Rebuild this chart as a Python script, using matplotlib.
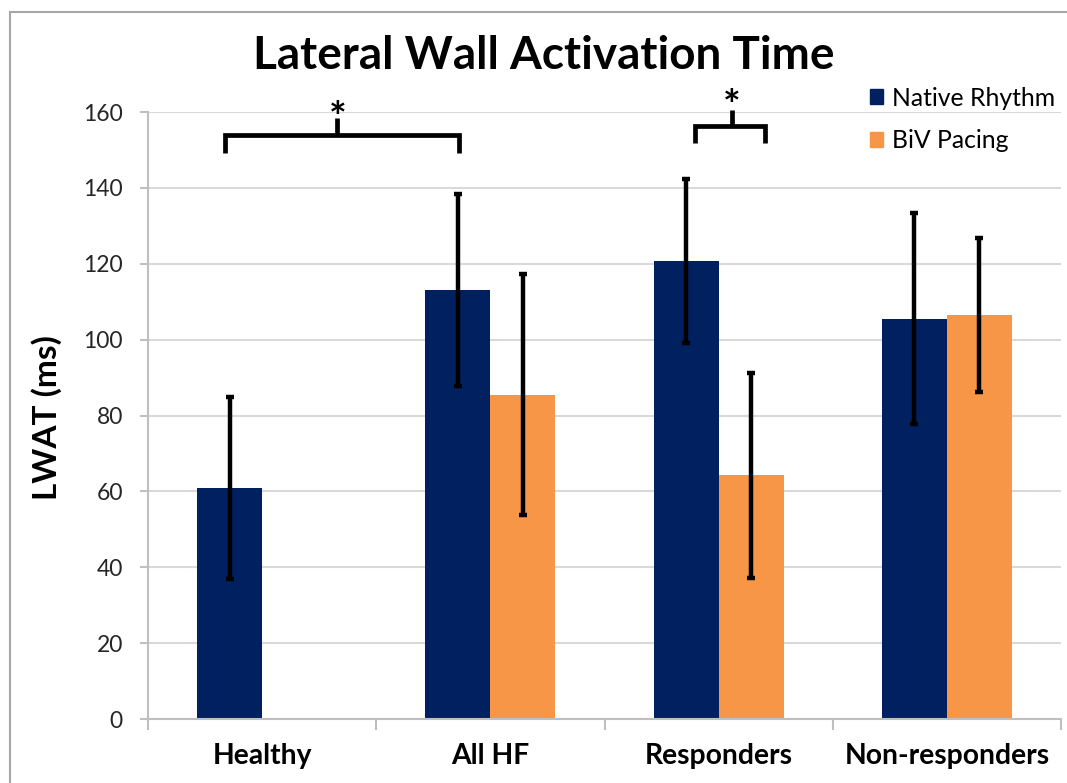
import numpy as np
import matplotlib.pyplot as plt
from matplotlib.patches import Patch, Rectangle

plt.rcParams['font.family'] = ['Lato', 'DejaVu Sans']

# LWAT per group (ms), mean and error
groups = ['Healthy', 'All HF', 'Responders', 'Non-responders']
native_mean = [61, 113, 120.7, 105.5]
native_err = [24, 25.3, 21.7, 27.8]
biv_mean = [np.nan, 85.5, 64.3, 106.5]
biv_err = [np.nan, 31.7, 27, 20.2]

navy = '#002060'
orange = '#F79646'
axis_grey = '#bfbfbf'
grid_grey = '#d9d9d9'

fig = plt.figure(figsize=(10.67, 7.83), dpi=100)
ax = fig.add_axes([0.1387, 0.0817, 0.8557, 0.7752])

x = np.arange(len(groups))
w = 0.285

ax.bar(x - w / 2, native_mean, w, color=navy, zorder=2)
ax.bar(x + w / 2, biv_mean, w, color=orange, zorder=2)
ax.errorbar(x - w / 2, native_mean, yerr=native_err, fmt='none', ecolor='black',
            elinewidth=3.2, capsize=3, capthick=3.2, zorder=3)
ax.errorbar(x + w / 2, biv_mean, yerr=biv_err, fmt='none', ecolor='black',
            elinewidth=3.2, capsize=3, capthick=3.2, zorder=3)

ax.set_xlim(-0.5, len(groups) - 0.5)
ax.set_ylim(0, 160)
ax.set_yticks(np.arange(0, 161, 20))
ax.yaxis.grid(True, color=grid_grey, linewidth=1.5, zorder=0)
ax.set_axisbelow(True)

# category labels at centres, tick marks at the boundaries
ax.set_xticks(x)
ax.set_xticklabels(groups, fontsize=20.3, fontweight='bold')
ax.set_xticks(np.arange(-0.5, len(groups), 1.0), minor=True)
ax.tick_params(axis='x', which='major', length=0, pad=17)
ax.tick_params(axis='x', which='minor', length=8, width=1.5, color=axis_grey, direction='out')
ax.tick_params(axis='y', length=6, width=1.5, color=axis_grey, labelsize=16.5, pad=12,
               labelcolor='#262626')

for side in ['top', 'right']:
    ax.spines[side].set_visible(False)
for side in ['left', 'bottom']:
    ax.spines[side].set_color(axis_grey)
    ax.spines[side].set_linewidth(1.5)

fig.text(0.044, 0.467, 'LWAT (ms)', rotation=90, ha='center', va='center',
         fontsize=24, fontweight='bold')
fig.text(0.51, 0.928, 'Lateral Wall Activation Time', ha='center', va='center',
         fontsize=33, fontweight='bold')

# significance brackets
def bracket(x0, x1, xm, y_low, y_bar, y_top, y_star):
    kw = dict(color='black', linewidth=3.4, clip_on=False, zorder=4,
              solid_capstyle='butt', solid_joinstyle='miter')
    ax.plot([x0, x0, x1, x1], [y_low, y_bar, y_bar, y_low], **kw)
    ax.plot([xm, xm], [y_bar, y_top], **kw)
    ax.text(xm, y_star, '*', ha='center', va='center', fontsize=30,
            fontweight='bold', clip_on=False)

bracket(-0.162, 0.861, 0.33, 149.2, 154.0, 158.4, 157.9)
bracket(1.895, 2.202, 2.058, 151.8, 156.4, 160.6, 161.0)

handles = [Patch(color=navy), Patch(color=orange)]
fig.legend(handles, ['Native Rhythm', 'BiV Pacing'], loc='upper left',
           bbox_to_anchor=(0.806, 0.902), frameon=False, fontsize=17.8,
           handlelength=0.55, handleheight=0.55, handletextpad=0.35,
           labelspacing=0.78, borderaxespad=0)

# outer chart border
fig.add_artist(Rectangle((10 / 1067, -0.05), 1.2, 1 - 12 / 783 + 0.05,
                         transform=fig.transFigure, fill=False,
                         edgecolor='#a6a6a6', linewidth=1.5))

fig.savefig('out.png', dpi=100)
